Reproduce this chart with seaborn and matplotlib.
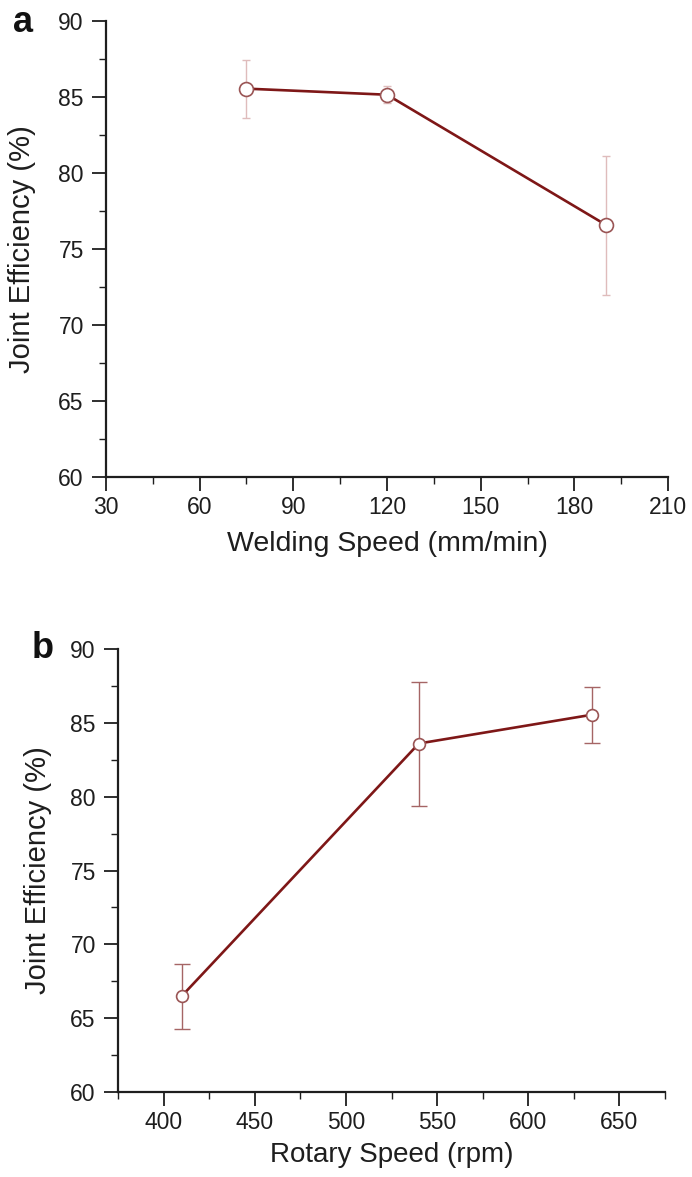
import matplotlib
matplotlib.use("Agg")
import matplotlib.pyplot as plt
from matplotlib.ticker import MultipleLocator
import pandas as pd
import seaborn as sns

# panel a: welding speed
weld_speed = [75, 120, 190]
weld_eff = [85.55, 85.15, 76.6]
weld_err_lo = [1.95, 0.55, 4.6]
weld_err_hi = [1.9, 0.55, 4.55]

# panel b: rotary speed
rot_speed = [410, 540, 635]
rot_eff = [66.5, 83.6, 85.55]
rot_err_lo = [2.2, 4.2, 1.9]
rot_err_hi = [2.2, 4.15, 1.9]

LINE = "#7e1717"
INK = "#1e1e1e"

sns.set_style("ticks")
plt.rcParams["font.family"] = ["Liberation Sans", "DejaVu Sans"]

fig = plt.figure(figsize=(6.92, 11.77), dpi=100)
W, H = 692, 1177


def axes_px(left, right, top, bottom):
    return fig.add_axes([left / W, 1 - bottom / H, (right - left) / W, (bottom - top) / H])


ax_a = axes_px(106, 668, 21, 477)
ax_b = axes_px(118, 665, 649, 1092)


def panel(ax, x, y, lo, hi, xlabel, xlim, xmaj, xmin, ecolor, capsize, msize,
          xlab_size, ylab_x, xlab_y):
    df = pd.DataFrame({"x": x, "y": y})
    ax.errorbar(df["x"], df["y"], yerr=[lo, hi], fmt="none", ecolor=ecolor,
                elinewidth=1.0, capsize=capsize, capthick=1.0, zorder=2)
    sns.lineplot(data=df, x="x", y="y", ax=ax, color=LINE, linewidth=1.9,
                 marker="o", markersize=msize, markerfacecolor="white",
                 markeredgecolor="#9a5555", markeredgewidth=1.2, zorder=3)
    ax.set_xlim(*xlim)
    ax.set_ylim(60, 90)
    ax.xaxis.set_major_locator(MultipleLocator(xmaj))
    ax.xaxis.set_minor_locator(MultipleLocator(xmin))
    ax.yaxis.set_major_locator(MultipleLocator(5))
    ax.yaxis.set_minor_locator(MultipleLocator(2.5))
    ax.tick_params(which="major", direction="out", length=10, width=1.3, pad=6,
                   labelsize=16.5, colors=INK)
    ax.tick_params(axis="x", which="major", pad=4)
    ax.tick_params(which="minor", direction="out", length=5, width=1.0, colors=INK)
    for s in ("top", "right"):
        ax.spines[s].set_visible(False)
    for s in ("left", "bottom"):
        ax.spines[s].set_linewidth(1.6)
        ax.spines[s].set_color(INK)
    ax.set_xlabel(xlabel, fontsize=xlab_size, color=INK)
    ax.set_ylabel("Joint Efficiency (%)", fontsize=21, color=INK)
    ax.yaxis.set_label_coords(ylab_x, 0.5)
    ax.xaxis.set_label_coords(0.5, xlab_y)


panel(ax_a, weld_speed, weld_eff, weld_err_lo, weld_err_hi, "Welding Speed (mm/min)",
      (30, 210), 30, 15, "#dfbcbc", 3, 10, 20.5, -0.125, -0.118)
panel(ax_b, rot_speed, rot_eff, rot_err_lo, rot_err_hi, "Rotary Speed (rpm)",
      (375, 675), 50, 25, "#a56565", 6, 8.5, 20, -0.121, -0.112)

fig.text(13 / W, 1 - 22 / H, "a", fontsize=26, fontweight="bold", ha="left", va="center", color="#111111")
fig.text(32 / W, 1 - 648 / H, "b", fontsize=26, fontweight="bold", ha="left", va="center", color="#111111")

fig.savefig("out.png", dpi=100)
